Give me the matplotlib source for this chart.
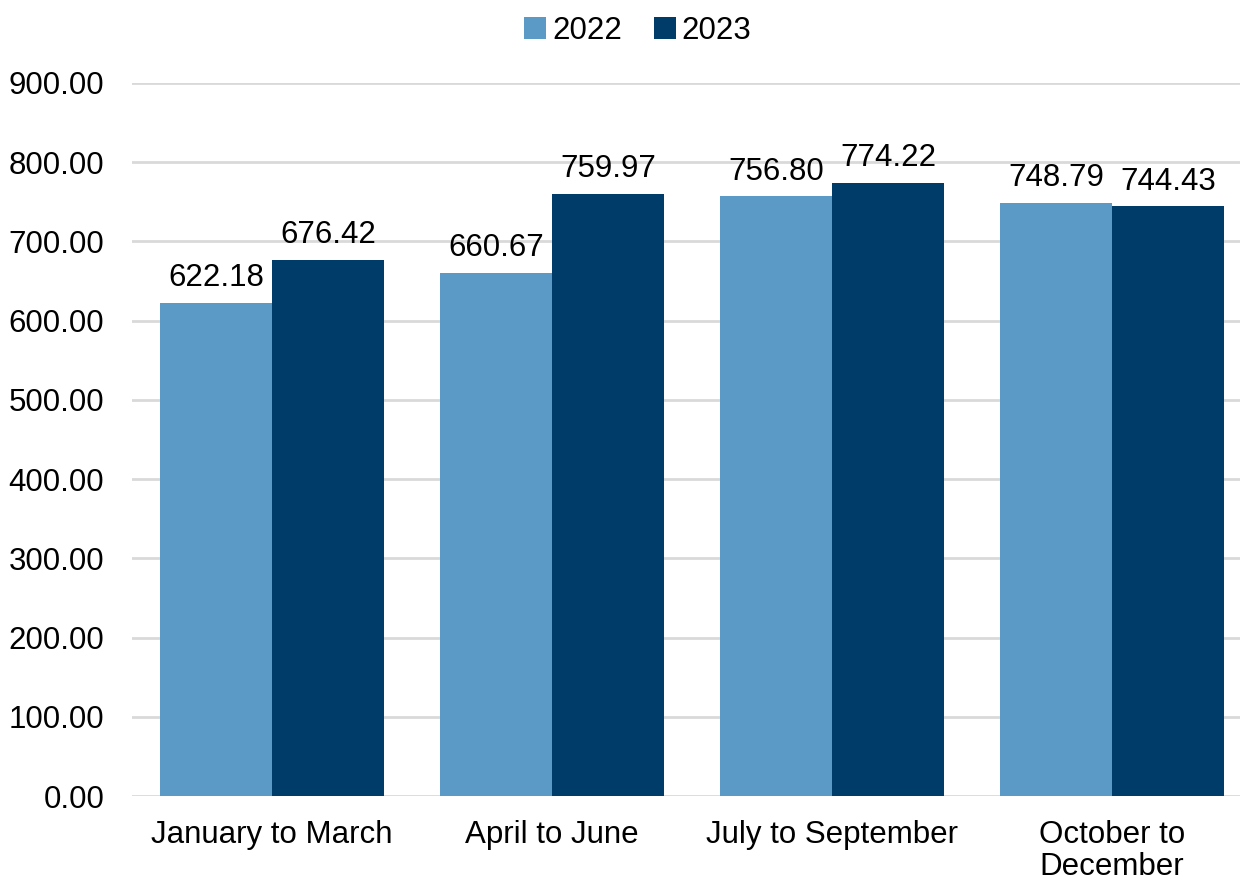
import matplotlib.pyplot as plt
import numpy as np

plt.rcParams['font.family'] = ['Liberation Sans', 'DejaVu Sans']

quarters = ["January to March", "April to June", "July to September", "October to\nDecember"]
years = ["2022", "2023"]
values_2022 = [622.18, 660.67, 756.80, 748.79]
values_2023 = [676.42, 759.97, 774.22, 744.43]
colors = ["#5B9AC6", "#003C6A"]
fs = 22.5

fig = plt.figure(figsize=(12.4, 8.81), dpi=100)
ax = fig.add_axes([132 / 1240, 1 - 796 / 881, 1 - 132 / 1240, (796 - 83) / 881])

x = np.arange(len(quarters))
w = 0.4
for i, (vals, label) in enumerate(zip([values_2022, values_2023], years)):
    bars = ax.bar(x + (i - 0.5) * w, vals, width=w, color=colors[i], label=label, zorder=3)
    for b, v in zip(bars, vals):
        ax.annotate(f"{v:.2f}", (b.get_x() + b.get_width() / 2, v),
                    xytext=(0, 7), textcoords="offset points",
                    ha="center", va="bottom", fontsize=fs)

ax.set_ylim(0, 900)
ax.set_yticks(np.arange(0, 901, 100))
ax.set_yticklabels([f"{t:.2f}" for t in np.arange(0, 901, 100)])
ax.set_xlim(-0.5, (1240 - 272) / 280)
ax.set_xticks(x)
ax.set_xticklabels(quarters)
ax.tick_params(axis="both", length=0, labelsize=fs)
ax.tick_params(axis="y", pad=20)
ax.tick_params(axis="x", pad=17)
for t in ax.get_xticklabels():
    t.set_linespacing(1.1)

ax.grid(axis="y", color="#D9D9D9", linewidth=2, zorder=0)
for s in ax.spines.values():
    s.set_visible(False)

ax.legend(loc="center", bbox_to_anchor=(638 / 1240, 1 - 31 / 881),
          bbox_transform=fig.transFigure, ncol=2, frameon=False, fontsize=fs,
          handlelength=0.7, handleheight=0.7, handletextpad=0.2, columnspacing=1.0,
          borderaxespad=0)

fig.savefig("out.png", dpi=100)
